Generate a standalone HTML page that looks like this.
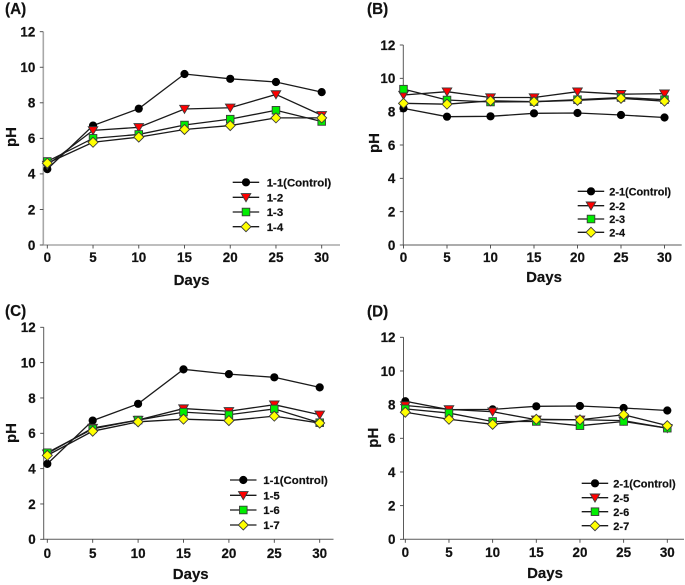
<!DOCTYPE html>
<html lang="en">
<head>
<meta charset="utf-8">
<title>pH over days</title>
<style>
html,body{margin:0;padding:0;background:#fff;}
svg{display:block;}
text{font-family:"Liberation Sans",Arial,sans-serif;font-weight:bold;fill:#111;stroke:#111;stroke-width:0.2px;}
</style>
</head>
<body>
<svg id="chart" xmlns="http://www.w3.org/2000/svg" width="685" height="585" viewBox="0 0 685 585"></svg>
<script>
const days = [0, 5, 10, 15, 20, 25, 30];
const yTicks = [0, 2, 4, 6, 8, 10, 12];

const seriesA1 = [4.27, 6.72, 7.67, 9.62, 9.35, 9.17, 8.6];
const seriesA2 = [4.5, 6.45, 6.62, 7.65, 7.72, 8.47, 7.3];
const seriesA3 = [4.7, 6.0, 6.22, 6.75, 7.08, 7.58, 6.95];
const seriesA4 = [4.6, 5.78, 6.07, 6.5, 6.72, 7.15, 7.15];
const labelsA = ["1-1(Control)", "1-2", "1-3", "1-4"];

const seriesB1 = [8.2, 7.7, 7.72, 7.9, 7.92, 7.8, 7.65];
const seriesB2 = [9.0, 9.2, 8.85, 8.85, 9.2, 9.05, 9.08];
const seriesB3 = [9.35, 8.7, 8.58, 8.6, 8.72, 8.85, 8.72];
const seriesB4 = [8.5, 8.45, 8.65, 8.6, 8.68, 8.8, 8.63];
const labelsB = ["2-1(Control)", "2-2", "2-3", "2-4"];

const seriesC1 = [4.27, 6.72, 7.67, 9.62, 9.35, 9.17, 8.6];
const seriesC2 = [4.85, 6.3, 6.75, 7.4, 7.25, 7.62, 7.05];
const seriesC3 = [4.9, 6.25, 6.75, 7.2, 7.05, 7.38, 6.6];
const seriesC4 = [4.75, 6.12, 6.65, 6.8, 6.72, 6.97, 6.58];
const labelsC = ["1-1(Control)", "1-5", "1-6", "1-7"];

const seriesD1 = [8.2, 7.7, 7.72, 7.9, 7.92, 7.8, 7.65];
const seriesD2 = [7.95, 7.72, 7.58, 7.1, 7.1, 7.05, 6.6];
const seriesD3 = [7.75, 7.5, 7.0, 7.0, 6.75, 7.0, 6.6];
const seriesD4 = [7.55, 7.13, 6.83, 7.13, 7.1, 7.4, 6.75];
const labelsD = ["2-1(Control)", "2-5", "2-6", "2-7"];

const NS = "http://www.w3.org/2000/svg";
const root = document.getElementById("chart");

function make(parent, tag, attrs, text) {
  const el = document.createElementNS(NS, tag);
  for (const k in attrs) el.setAttribute(k, attrs[k]);
  if (text !== undefined) el.textContent = text;
  parent.appendChild(el);
  return el;
}

function marker(parent, kind, x, y, name) {
  const stroke = "#3a3a3a";
  let el;
  if (kind === 0) {
    el = make(parent, "circle", {cx: x, cy: y, r: 3.8, fill: "#000", stroke: "#000", "stroke-width": 0.6});
  } else if (kind === 1) {
    el = make(parent, "polygon", {points: [[x - 4.8, y - 3.7], [x + 4.8, y - 3.7], [x, y + 4.4]].join(" "), fill: "#ff0000", stroke: stroke, "stroke-width": 0.9});
  } else if (kind === 2) {
    el = make(parent, "rect", {x: x - 3.8, y: y - 3.8, width: 7.6, height: 7.6, fill: "#00ee00", stroke: stroke, "stroke-width": 0.9});
  } else {
    el = make(parent, "polygon", {points: [[x, y - 5], [x + 5, y], [x, y + 5], [x - 5, y]].join(" "), fill: "#ffff00", stroke: stroke, "stroke-width": 0.9});
  }
  
  
}

function drawPanel(p) {
  const g = make(root, "g", {});
  
  

  const xScale = v => p.x0 + (v - days[0]) / (days[days.length - 1] - days[0]) * (p.x30 - p.x0);
  const yScale = v => p.y0 + v / yTicks[yTicks.length - 1] * (p.y12 - p.y0);

  const title = make(g, "text", {x: p.titleX, y: p.titleY, "font-size": 15.3}, "(" + p.id + ")");
  
  

  const yAxis = make(g, "line", {x1: p.ax, x2: p.ax, y1: p.y12, y2: p.y0 + 0.5, stroke: p.axisColor, "stroke-width": p.axisWidth});
  
  

  const xAxis = make(g, "line", {x1: p.ax, x2: p.axEnd, y1: p.y0, y2: p.y0, stroke: p.axisColor, "stroke-width": p.axisWidth});
  
  

  yTicks.forEach(v => {
    const y = yScale(v);
    const tick = make(g, "line", {x1: p.ax - 3.5, x2: p.ax, y1: y, y2: y, stroke: "#444", "stroke-width": 0.9});
    
    
    const label = make(g, "text", {x: p.ax - 8, y: y + 4.8, "font-size": 13.4, "text-anchor": "end"}, String(v));
    
    
  });

  days.forEach(v => {
    const x = xScale(v);
    const tick = make(g, "line", {x1: x, x2: x, y1: p.y0, y2: p.y0 + 3.5, stroke: "#444", "stroke-width": 0.9});
    
    
    const label = make(g, "text", {x: x, y: p.xLabelY, "font-size": 13.4, "text-anchor": "middle"}, String(v));
    
    
  });

  const xTitle = make(g, "text", {x: p.daysX, y: p.daysY, "font-size": 15, "text-anchor": "middle"}, "Days");
  
  

  const yTitle = make(g, "text", {x: 0, y: 0, "font-size": 15, "text-anchor": "middle", transform: "translate(" + p.phX + " " + p.phY + ") rotate(-90)"}, "pH");
  
  

  p.series.forEach((vals, i) => {
    const pts = vals.map((v, j) => xScale(days[j]).toFixed(2) + "," + yScale(v).toFixed(2)).join(" ");
    const line = make(g, "polyline", {points: pts, fill: "none", stroke: "#1a1a1a", "stroke-width": 1.3});
    
    
  });
  p.series.forEach((vals, i) => {
    vals.forEach((v, j) => {
      marker(g, i, xScale(days[j]), yScale(v), "series-point");
    });
  });

  p.labels.forEach((label, i) => {
    const y = p.legendY[i];
    const entry = make(g, "g", {});
    
    
    make(entry, "line", {x1: p.legendX, x2: p.legendX + 26.5, y1: y, y2: y, stroke: "#1a1a1a", "stroke-width": 1.3});
    marker(entry, i, p.legendX + 13.3, y, "legend-marker");
    make(entry, "text", {x: p.legendTextX, y: y + 4.1, "font-size": p.legendFont}, label);
  });
}

drawPanel({id: "A", series: [seriesA1, seriesA2, seriesA3, seriesA4], labels: labelsA,
  x0: 47.3, x30: 321.7, y0: 245, y12: 31.7, ax: 43.3, axEnd: 340, axisColor: "#a8a8a8", axisWidth: 1.6,
  titleX: 5, titleY: 14, xLabelY: 262, daysX: 191.5, daysY: 285, phX: 15.8, phY: 137,
  legendX: 232.7, legendTextX: 266.7, legendFont: 11.4, legendY: [182.3, 197.3, 212, 226.7]});

drawPanel({id: "B", series: [seriesB1, seriesB2, seriesB3, seriesB4], labels: labelsB,
  x0: 403.5, x30: 664.5, y0: 245, y12: 45, ax: 403.3, axEnd: 681.7, axisColor: "#5a5a5a", axisWidth: 1,
  titleX: 367, titleY: 14, xLabelY: 262, daysX: 544, daysY: 282, phX: 379, phY: 143,
  legendX: 577.7, legendTextX: 609.3, legendFont: 10.9, legendY: [191.3, 205.7, 219, 232.3]});

drawPanel({id: "C", series: [seriesC1, seriesC2, seriesC3, seriesC4], labels: labelsC,
  x0: 47.3, x30: 319.7, y0: 539.3, y12: 327.3, ax: 43.7, axEnd: 333.5, axisColor: "#5a5a5a", axisWidth: 1,
  titleX: 5, titleY: 316, xLabelY: 558, daysX: 190.7, daysY: 579, phX: 15.8, phY: 433,
  legendX: 230, legendTextX: 263.3, legendFont: 11.4, legendY: [480, 495.3, 510, 525]});

drawPanel({id: "D", series: [seriesD1, seriesD2, seriesD3, seriesD4], labels: labelsD,
  x0: 405.3, x30: 667.3, y0: 539.3, y12: 337.3, ax: 403.5, axEnd: 684, axisColor: "#5a5a5a", axisWidth: 1,
  titleX: 367, titleY: 316.5, xLabelY: 557, daysX: 545, daysY: 578, phX: 378, phY: 437.7,
  legendX: 581.7, legendTextX: 613.3, legendFont: 11, legendY: [483.3, 497.7, 511.7, 525.7]});
</script>
</body>
</html>
